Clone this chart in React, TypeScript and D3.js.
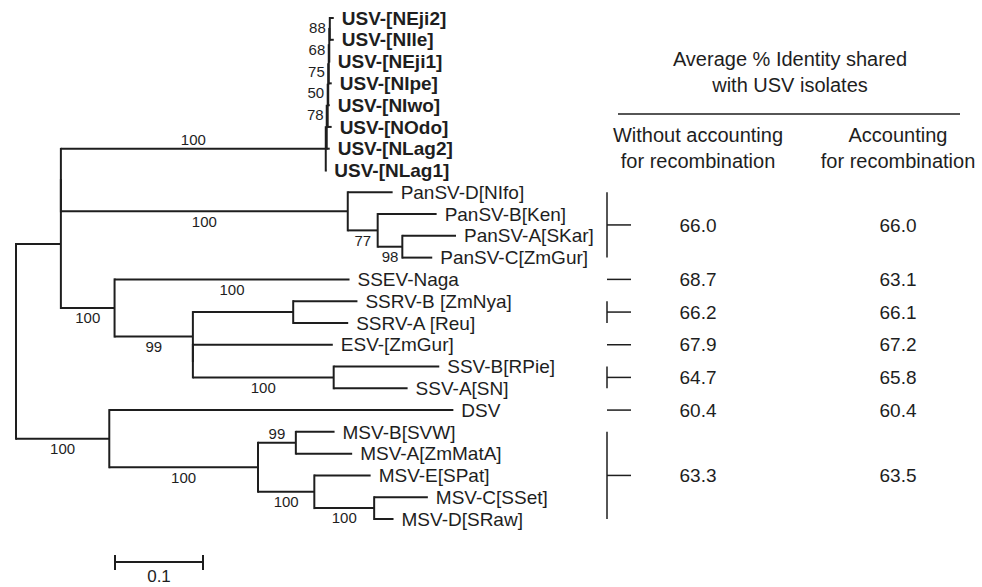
import React, { useRef, useEffect } from 'react';
import * as d3 from 'd3';

// tree as an edge table: node, parent, branch length (subst./site), bootstrap
const nodeIds = [
  'root', 'A', 'A2', 'USV', 'N2', 'N3', 'N4', 'N5', 'N6', 'N7',
  'USV-[NEji2]', 'USV-[NIle]', 'USV-[NEji1]', 'USV-[NIpe]', 'USV-[NIwo]', 'USV-[NOdo]', 'USV-[NLag2]', 'USV-[NLag1]',
  'PAN', 'PanSV-D[NIfo]', 'I', 'PanSV-B[Ken]', 'J', 'PanSV-A[SKar]', 'PanSV-C[ZmGur]',
  'B', 'SSEV-Naga', 'C', 'SSRV', 'SSRV-B [ZmNya]', 'SSRV-A [Reu]', 'C3', 'ESV-[ZmGur]', 'SSV', 'SSV-B[RPie]', 'SSV-A[SN]',
  'D', 'DSV', 'E', 'F', 'MSV-B[SVW]', 'MSV-A[ZmMatA]', 'G', 'MSV-E[SPat]', 'H', 'MSV-C[SSet]', 'MSV-D[SRaw]',
];
const parentIds = [
  null, 'root', 'A', 'A2', 'USV', 'N2', 'N3', 'N4', 'N5', 'N6',
  'N7', 'N7', 'N6', 'N5', 'N4', 'N3', 'N2', 'USV',
  'A2', 'PAN', 'PAN', 'I', 'I', 'J', 'J',
  'A', 'B', 'B', 'C', 'SSRV', 'SSRV', 'C', 'C3', 'C3', 'SSV', 'SSV',
  'root', 'D', 'D', 'E', 'F', 'F', 'E', 'G', 'G', 'H', 'H',
];
const branchLengths = [
  0, 0.051, 0, 0.301, 0.0011, 0.0011, 0.0006, 0.0006, 0.0006, 0.0006,
  0.0045, 0.0045, 0.0006, 0.0034, 0.0017, 0.0045, 0.0034, 0.0006,
  0.326, 0.051, 0.034, 0.067, 0.028, 0.061, 0.034,
  0.061, 0.267, 0.089, 0.114, 0.073, 0.0625, 0, 0.159, 0.16, 0.12, 0.084,
  0.106, 0.391, 0.169, 0.043, 0.044, 0.064, 0.064, 0.064, 0.068, 0.061, 0.022,
];
const supportValues = [
  null, null, null, 100, null, 78, 50, 75, 68, 88,
  null, null, null, null, null, null, null, null,
  100, null, 77, null, 98, null, null,
  100, 100, 99, null, null, null, null, null, 100, null, null,
  100, null, 100, 99, null, null, 100, null, 100, null, null,
];
const supportAbove = ['USV', 'F'];
const supportBeside = ['N3', 'N4', 'N5', 'N6', 'N7'];

// identity table
const groupFirst = ['PanSV-D[NIfo]', 'SSEV-Naga', 'SSRV-B [ZmNya]', 'ESV-[ZmGur]', 'SSV-B[RPie]', 'DSV', 'MSV-B[SVW]'];
const groupLast = ['PanSV-C[ZmGur]', 'SSEV-Naga', 'SSRV-A [Reu]', 'ESV-[ZmGur]', 'SSV-A[SN]', 'DSV', 'MSV-D[SRaw]'];
const identityWithout = [66.0, 68.7, 66.2, 67.9, 64.7, 60.4, 63.3];
const identityWith = [66.0, 63.1, 66.1, 67.2, 65.8, 60.4, 63.5];
const headerLines = ['Average % Identity shared', 'with USV isolates'];
const columnHeads = [
  ['Without accounting', 'for recombination'],
  ['Accounting', 'for recombination'],
];
const scaleBarValue = 0.1;

const W = 982;
const H = 587;
const FONT = '"Liberation Sans", Arial, Helvetica, sans-serif';
const INK = '#1e1e1e';

const Tree = () => {
  const svgRef = useRef(null);

  useEffect(() => {
    const svg = d3.select(svgRef.current);
    svg.selectAll('*').remove();

    const rows = nodeIds.map((id, i) => ({
      id,
      parent: parentIds[i],
      len: branchLengths[i],
      support: supportValues[i],
    }));
    const root = d3.stratify().id((d) => d.id).parentId((d) => d.parent)(rows);
    root.eachBefore((n) => {
      n.dist = n.parent ? n.parent.dist + n.data.len : 0;
    });

    const leaves = root.leaves();
    const x = d3.scaleLinear().domain([0, 1]).range([16, 896]);
    const y = d3.scalePoint().domain(leaves.map((d) => d.id)).range([18, 519]);
    root.eachAfter((n) => {
      n.py = n.children
        ? (n.children[0].py + n.children[n.children.length - 1].py) / 2
        : y(n.id);
    });

    const g = svg.append('g').attr('fill', INK).style('font-family', FONT);

    // branches
    const nodes = root.descendants();
    g.selectAll('.hbranch')
      .data(nodes.filter((n) => n.parent))
      .join('line')
      .attr('x1', (n) => x(n.parent.dist))
      .attr('x2', (n) => x(n.dist))
      .attr('y1', (n) => n.py)
      .attr('y2', (n) => n.py)
      .attr('stroke', INK)
      .attr('stroke-width', 2);
    g.selectAll('.vbranch')
      .data(nodes.filter((n) => n.children))
      .join('line')
      .attr('x1', (n) => x(n.dist))
      .attr('x2', (n) => x(n.dist))
      .attr('y1', (n) => n.children[0].py - 1)
      .attr('y2', (n) => n.children[n.children.length - 1].py + 1)
      .attr('stroke', INK)
      .attr('stroke-width', 2);

    // tip labels
    g.selectAll('.tip')
      .data(leaves)
      .join('text')
      .attr('x', (n) => x(n.dist) + 8)
      .attr('y', (n) => n.py)
      .attr('dy', '0.35em')
      .attr('font-size', 19)
      .attr('font-weight', (n) => (n.id.startsWith('USV') ? 'bold' : 'normal'))
      .text((n) => n.id);

    // bootstrap values
    g.selectAll('.support')
      .data(nodes.filter((n) => n.data.support != null))
      .join('text')
      .attr('font-size', 15)
      .attr('dy', '0.35em')
      .attr('text-anchor', (n) => (supportBeside.includes(n.id) ? 'end' : 'middle'))
      .attr('x', (n) =>
        supportBeside.includes(n.id) ? x(n.dist) - 4 : (x(n.parent.dist) + x(n.dist)) / 2
      )
      .attr('y', (n) => {
        if (supportBeside.includes(n.id)) return n.children[n.children.length - 1].py - 12;
        return supportAbove.includes(n.id) ? n.py - 9 : n.py + 10;
      })
      .text((n) => n.data.support);

    // scale bar
    const barX = 115;
    const barW = x(scaleBarValue) - x(0);
    const barY = 562;
    const bar = g.append('g').attr('stroke', INK).attr('stroke-width', 2);
    bar.append('line').attr('x1', barX).attr('x2', barX + barW).attr('y1', barY).attr('y2', barY);
    bar.append('line').attr('x1', barX).attr('x2', barX).attr('y1', barY - 7).attr('y2', barY + 8);
    bar.append('line').attr('x1', barX + barW).attr('x2', barX + barW).attr('y1', barY - 7).attr('y2', barY + 8);
    g.append('text')
      .attr('x', barX + barW / 2)
      .attr('y', 582)
      .attr('text-anchor', 'middle')
      .attr('font-size', 17)
      .text(scaleBarValue);

    // identity table
    const colX = [698, 898];
    const head = g.append('g').attr('font-size', 20).attr('text-anchor', 'middle');
    headerLines.forEach((t, i) => {
      head.append('text').attr('x', 790).attr('y', 66 + i * 26).text(t);
    });
    g.append('line')
      .attr('x1', 618).attr('x2', 960).attr('y1', 114).attr('y2', 114)
      .attr('stroke', INK).attr('stroke-width', 1.5);
    columnHeads.forEach((lines, c) => {
      lines.forEach((t, i) => {
        head.append('text').attr('x', colX[c]).attr('y', 142 + i * 26).text(t);
      });
    });

    const groups = groupFirst.map((f, i) => ({
      y0: y(f),
      y1: y(groupLast[i]),
      a: identityWithout[i],
      b: identityWith[i],
    }));
    const brk = g.append('g').attr('stroke', INK).attr('stroke-width', 1.5);
    groups.forEach((d) => {
      const mid = (d.y0 + d.y1) / 2;
      if (d.y1 > d.y0) {
        brk.append('line').attr('x1', 607).attr('x2', 607).attr('y1', d.y0).attr('y2', d.y1);
      }
      brk.append('line').attr('x1', 607).attr('x2', 631).attr('y1', mid).attr('y2', mid);
      [d.a, d.b].forEach((v, c) => {
        g.append('text')
          .attr('x', colX[c])
          .attr('y', mid)
          .attr('dy', '0.35em')
          .attr('text-anchor', 'middle')
          .attr('font-size', 19)
          .text(d3.format('.1f')(v));
      });
    });
  }, []);

  return (
    <svg
      ref={svgRef}
      width={W}
      height={H}
      style={{ position: 'absolute', left: 0, top: 0, background: '#fff' }}
    />
  );
};

export default function App() {
  return <Tree />;
}
